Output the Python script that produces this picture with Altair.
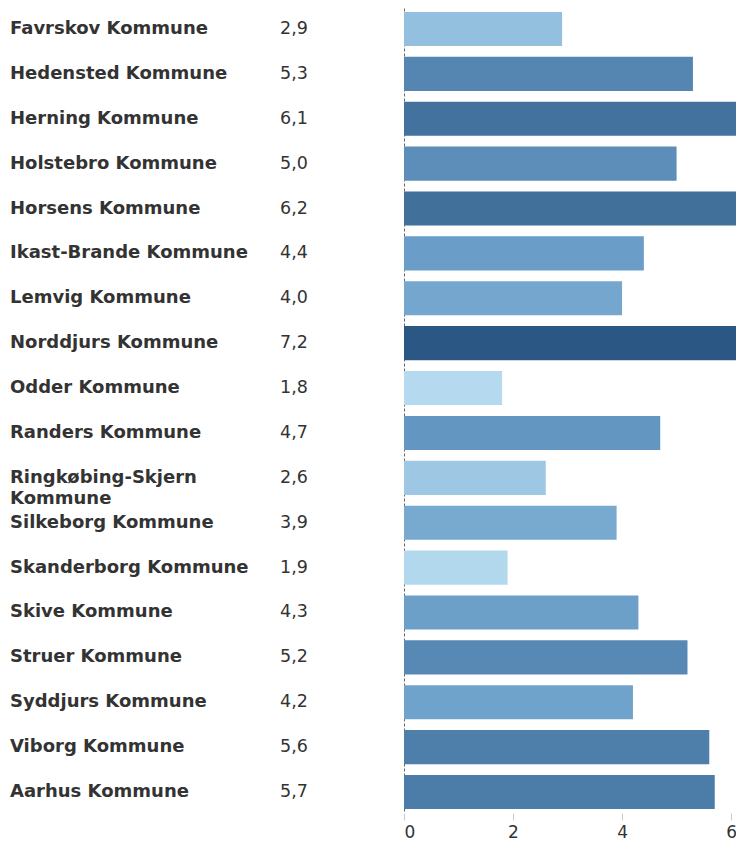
import altair as alt
import pandas as pd

kommuner = [
    "Favrskov Kommune", "Hedensted Kommune", "Herning Kommune", "Holstebro Kommune",
    "Horsens Kommune", "Ikast-Brande Kommune", "Lemvig Kommune", "Norddjurs Kommune",
    "Odder Kommune", "Randers Kommune", "Ringkøbing-Skjern\nKommune", "Silkeborg Kommune",
    "Skanderborg Kommune", "Skive Kommune", "Struer Kommune", "Syddjurs Kommune",
    "Viborg Kommune", "Aarhus Kommune",
]
values = [2.9, 5.3, 6.1, 5.0, 6.2, 4.4, 4.0, 7.2, 1.8, 4.7, 2.6, 3.9, 1.9, 4.3, 5.2, 4.2, 5.6, 5.7]
x_ticks = [0, 2, 4, 6]

df = pd.DataFrame({
    "kommune": kommuner,
    "value": values,
    "label": [f"{v:.1f}".replace(".", ",") for v in values],
})

FONT = "DejaVu Sans"
band = alt.Scale(paddingInner=0.24, paddingOuter=0.088)

base = alt.Chart(df)

y_bar = alt.Y("kommune:N", sort=kommuner, scale=band,
              axis=alt.Axis(labels=False, ticks=False, title=None, domain=True,
                            domainColor="#666666", domainDash=[3, 2], domainWidth=1,
                            minExtent=0))

bars = base.mark_bar(clip=True).encode(
    y=y_bar,
    x=alt.X("value:Q", scale=alt.Scale(domain=[0, 6.09], nice=False),
            axis=alt.Axis(values=x_ticks, title=None, domain=False, grid=False,
                          tickColor="#cccccc", tickSize=7, tickWidth=1,
                          labelFont=FONT, labelFontSize=17, labelColor="#333333",
                          labelPadding=4, labelFlush=True)),
    color=alt.Color("value:Q", legend=None,
                    scale=alt.Scale(domain=[1.8, 4.4, 7.2],
                                    range=["#b5daf0", "#6a9ec8", "#2a5783"])),
)

names = base.mark_text(
    align="left", baseline="middle", font=FONT, fontSize=18, fontWeight="bold",
    color="#333333", lineBreak="\n", lineHeight=21,
).encode(y=alt.Y("kommune:N", sort=kommuner), x=alt.value(-394), text="kommune:N")

vals = base.mark_text(
    align="left", baseline="middle", font=FONT, fontSize=17.5, color="#333333",
).encode(y=alt.Y("kommune:N", sort=kommuner), x=alt.value(-124), text="label:N")

chart = alt.layer(bars, names, vals).properties(
    width=332, height=805,
    autosize=alt.AutoSizeParams(type="none"),
    padding={"left": 396, "top": 0, "right": 0, "bottom": 27},
).configure_view(stroke=None)

chart.save("out.html", embed_options={"renderer": "svg", "actions": False})
